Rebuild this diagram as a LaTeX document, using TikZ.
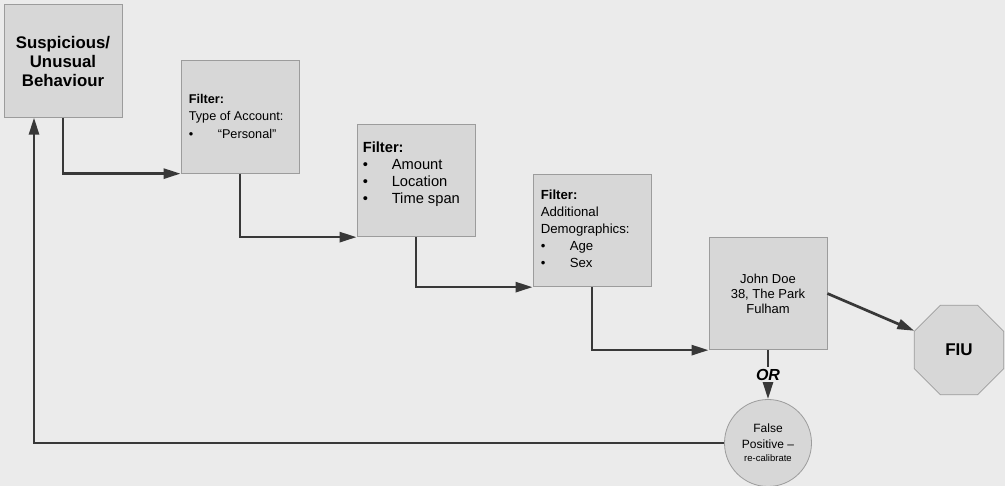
\documentclass[tikz,border=0pt]{standalone}
\usepackage{fontspec}
\setmainfont{Liberation Sans}
\usetikzlibrary{arrows.meta,shapes.geometric}

\definecolor{bgc}{HTML}{EBEBEB}
\definecolor{boxfill}{HTML}{D7D7D7}
\definecolor{boxline}{HTML}{9C9C9C}
\definecolor{wirec}{HTML}{383838}

% bullet followed by an indented item
\newcommand{\bulitem}[1]{\makebox[29pt][l]{\textbullet}#1}

\begin{document}
\begin{tikzpicture}[x=1pt,y=-1pt,
  box/.style={draw=boxline, fill=boxfill, line width=0.8pt,
    minimum width=118pt, minimum height=112.5pt, inner sep=0pt},
  txt/.style={inner sep=0pt, align=left, anchor=north west},
  wire/.style={draw=wirec, line width=2.7pt,
    -{Triangle[length=17pt,width=10pt]}},
  endshape/.style={draw=boxline, fill=boxfill, line width=0.8pt, inner sep=0pt}]

% background
\path[fill=bgc, use as bounding box] (0,0) rectangle (1005,486);

% start box
\node[box, align=center, font=\bfseries\fontsize{16.8}{19}\selectfont] (s) at (63,61)
  {Suspicious/\\Unusual\\Behaviour};

% filter stages
\node[box] (b2) at (240,117) {};
\node[txt, font=\fontsize{12.7}{17.5}\selectfont] (b2t)
  at ([xshift=8pt,yshift=-33.5pt]b2.north west)
  {\textbf{Filter:}\\Type of Account:\\\bulitem{“Personal”}};

\node[box] (b3) at (416,180.5) {};
\node[txt, font=\fontsize{14.7}{17}\selectfont] (b3t)
  at ([xshift=6pt,yshift=-18pt]b3.north west)
  {\textbf{Filter:}\\\bulitem{Amount}\\\bulitem{Location}\\\bulitem{Time span}};

\node[box] (b4) at (592,230.5) {};
\node[txt, font=\fontsize{13.2}{17}\selectfont] (b4t)
  at ([xshift=8pt,yshift=-16.3pt]b4.north west)
  {\textbf{Filter:}\\Additional\\Demographics:\\\bulitem{Age}\\\bulitem{Sex}};

% identified customer
\node[box, align=center, font=\fontsize{13}{15}\selectfont] (b5) at (768,293.5)
  {John Doe\\38, The Park\\Fulham};

% outcomes
\node[endshape, regular polygon, regular polygon sides=8, minimum size=97pt,
  font=\bfseries\fontsize{17}{17}\selectfont] (fiu) at (959,350) {FIU};
\node[endshape, circle, minimum size=87pt, align=center,
  font=\fontsize{12}{16}\selectfont] (fp) at (768,443)
  {False\\Positive –\\[-3pt]{\fontsize{9.5}{11}\selectfont re-calibrate}};

% connectors
\draw[wire] (s.south) |- (b2.south west);
\draw[wire] (b2.south) |- (b3.south west);
\draw[wire] (b3.south) |- (b4.south west);
\draw[wire] (b4.south) |- (b5.south west);
\draw[wire] (b5.east) -- (fiu);
\draw[wire] (b5.south) -- node[fill=bgc, inner sep=1.5pt,
  font=\bfseries\itshape\fontsize{16}{16}\selectfont] (orl) {OR} (fp.north);
\draw[wire] (fp.west) -| ([xshift=-29pt]s.south);

\end{tikzpicture}
\end{document}
